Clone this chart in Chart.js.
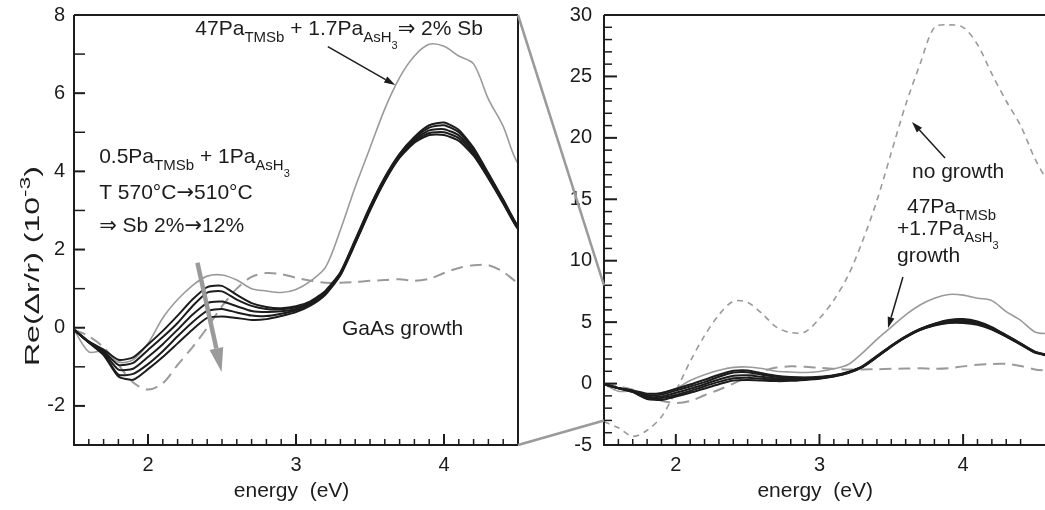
<!DOCTYPE html>
<html>
<head>
<meta charset="utf-8">
<script src="https://cdn.jsdelivr.net/npm/chart.js@4.4.1/dist/chart.umd.min.js"></script>
<style>
html, body { margin: 0; padding: 0; background: #fff; overflow: hidden; }
#wrap { position: relative; width: 1045px; height: 510px; }
canvas { position: absolute; top: 0; }
#cLeft { left: 0; }
#cRight { left: 530px; }
#cOver { left: 0; pointer-events: none; }
</style>
</head>
<body>
<div id="wrap">
  <canvas id="cLeft" width="530" height="510" style="width:530px;height:510px"></canvas>
  <canvas id="cRight" width="515" height="510" style="width:515px;height:510px"></canvas>
  <canvas id="cOver" width="1045" height="510" style="width:1045px;height:510px"></canvas>
</div>
<script>
// ---------------------------------------------------------------------------
// data (energy in eV, Re(dr/r) in 1e-3)
// ---------------------------------------------------------------------------
const energy = [1.5, 1.6, 1.7, 1.8, 1.9, 2.0, 2.1, 2.2, 2.3, 2.4, 2.5, 2.6, 2.7, 2.8, 2.9, 3.0,
                3.1, 3.2, 3.3, 3.4, 3.5, 3.6, 3.7, 3.8, 3.9, 4.0, 4.1, 4.2, 4.3, 4.4, 4.5, 4.6];

// 0.5Pa TMSb + 1Pa AsH3, T 570 -> 510 C (five spectra, Sb 2% -> 12%)
const sbRun1 = [-0.05, -0.35, -0.56, -0.82, -0.76, -0.43, -0.08, 0.31, 0.72, 1.04, 1.07, 0.84, 0.63, 0.53, 0.50, 0.55,
                0.68, 0.95, 1.42, 2.25, 3.10, 3.85, 4.45, 4.88, 5.18, 5.25, 5.06, 4.60, 3.95, 3.28, 2.60, 2.30];
const sbRun2 = [-0.05, -0.36, -0.60, -0.95, -0.90, -0.57, -0.24, 0.12, 0.55, 0.90, 0.93, 0.72, 0.56, 0.48, 0.47, 0.52,
                0.66, 0.93, 1.40, 2.22, 3.08, 3.83, 4.43, 4.85, 5.12, 5.18, 5.00, 4.55, 3.92, 3.26, 2.58, 2.28];
const sbRun3 = [-0.05, -0.37, -0.63, -1.07, -1.05, -0.75, -0.42, -0.05, 0.33, 0.63, 0.67, 0.55, 0.43, 0.40, 0.42, 0.48,
                0.63, 0.90, 1.38, 2.20, 3.05, 3.80, 4.40, 4.81, 5.05, 5.08, 4.92, 4.50, 3.88, 3.23, 2.56, 2.26];
const sbRun4 = [-0.05, -0.38, -0.67, -1.20, -1.18, -0.93, -0.60, -0.22, 0.14, 0.43, 0.48, 0.39, 0.31, 0.30, 0.36, 0.44,
                0.60, 0.88, 1.36, 2.17, 3.02, 3.77, 4.37, 4.77, 4.98, 5.00, 4.85, 4.45, 3.85, 3.20, 2.54, 2.24];
const sbRun5 = [-0.05, -0.38, -0.70, -1.25, -1.33, -1.06, -0.75, -0.40, -0.05, 0.25, 0.29, 0.25, 0.20, 0.22, 0.30, 0.40,
                0.57, 0.85, 1.34, 2.15, 3.00, 3.75, 4.35, 4.73, 4.93, 4.93, 4.78, 4.40, 3.82, 3.18, 2.52, 2.22];

// 47Pa TMSb + 1.7Pa AsH3 -> 2% Sb
const highTmsb = [-0.05, -0.62, -0.60, -0.88, -0.82, -0.40, 0.25, 0.72, 1.08, 1.32, 1.35, 1.22, 1.00, 0.94, 0.90, 0.98,
                  1.20, 1.55, 2.50, 3.60, 4.60, 5.60, 6.40, 6.95, 7.25, 7.20, 6.95, 6.75, 5.85, 5.15, 4.20, 4.05];
// GaAs growth
const gaasGrowth = [-0.05, -0.22, -0.50, -0.95, -1.40, -1.58, -1.42, -0.95, -0.50, 0.00, 0.55, 1.00, 1.30, 1.40, 1.37, 1.28,
                    1.20, 1.15, 1.15, 1.17, 1.20, 1.22, 1.24, 1.20, 1.25, 1.40, 1.53, 1.60, 1.60, 1.43, 1.15, 1.05];
// no growth, 47Pa TMSb + 1.7Pa AsH3
const noGrowth = [-3.1, -3.6, -4.3, -3.8, -2.7, -0.6, 1.8, 3.9, 5.6, 6.7, 6.6, 5.7, 4.6, 4.15, 4.2, 5.3,
                  6.8, 8.8, 11.6, 14.9, 18.8, 22.7, 26.0, 29.0, 29.2, 29.0, 27.6, 25.2, 23.0, 21.0, 18.3, 16.2];

// tick labels
const xLabels = [2, 3, 4];
const leftYLabels = [-2, 0, 2, 4, 6, 8];
const rightYLabels = [-5, 0, 5, 10, 15, 20, 25, 30];

// ---------------------------------------------------------------------------
const FONT = "'Liberation Sans', 'DejaVu Sans', Arial, sans-serif";
const SYM = "'DejaVu Sans', sans-serif";
const INK = '#1c1c1c';
const GREY = '#9a9a9a';
// [size, baseline shift, family]
const LEVELS = { n: [21, 0, FONT], s: [15, 7, FONT], ss: [11, 14, FONT], up: [15, -9, FONT], sym: [21, 0, SYM] };

const pts = ys => energy.map((x, i) => ({ x: x, y: ys[i] }));

function blackSet(ys) {
    return { data: pts(ys), borderColor: INK, borderWidth: 2, tension: 0.2, pointRadius: 0 };
}

function baseSets() {
    return [
        blackSet(sbRun1), blackSet(sbRun2), blackSet(sbRun3), blackSet(sbRun4), blackSet(sbRun5),
        { data: pts(highTmsb), borderColor: GREY, borderWidth: 1.6, tension: 0.3, pointRadius: 0 },
        { data: pts(gaasGrowth), borderColor: GREY, borderWidth: 2, borderDash: [12, 7], tension: 0.3, pointRadius: 0 }
    ];
}

function setFont(ctx, lv) {
    ctx.font = lv[0] + 'px ' + lv[2];
}

function richWidth(ctx, parts) {
    let w = 0;
    parts.forEach(function (p) {
        setFont(ctx, LEVELS[p[1] || 'n']);
        w += ctx.measureText(p[0]).width;
    });
    return w;
}

function richText(ctx, x, y, parts) {
    let cx = x;
    ctx.textAlign = 'left';
    ctx.textBaseline = 'alphabetic';
    parts.forEach(function (p) {
        const lv = LEVELS[p[1] || 'n'];
        setFont(ctx, lv);
        ctx.fillText(p[0], cx, y + lv[1]);
        cx += ctx.measureText(p[0]).width;
    });
}

function arrow(ctx, x1, y1, x2, y2, color, width, headLen, headW) {
    const a = Math.atan2(y2 - y1, x2 - x1);
    const bx = x2 - headLen * Math.cos(a), by = y2 - headLen * Math.sin(a);
    ctx.strokeStyle = color;
    ctx.fillStyle = color;
    ctx.lineWidth = width;
    ctx.setLineDash([]);
    ctx.beginPath(); ctx.moveTo(x1, y1); ctx.lineTo(bx, by); ctx.stroke();
    ctx.beginPath();
    ctx.moveTo(x2, y2);
    ctx.lineTo(bx + headW / 2 * Math.sin(a), by - headW / 2 * Math.cos(a));
    ctx.lineTo(bx - headW / 2 * Math.sin(a), by + headW / 2 * Math.cos(a));
    ctx.closePath(); ctx.fill();
}

// frame, inner ticks, titles and annotations for one panel
function panelPlugin(cfg) {
    return {
        id: 'panel',
        afterDraw: function (chart) {
            const ctx = chart.ctx, a = chart.chartArea;
            const xs = chart.scales.x, ys = chart.scales.y;
            ctx.save();
            ctx.strokeStyle = INK;
            ctx.lineWidth = 2;
            ctx.beginPath();
            ctx.moveTo(a.left, a.top); ctx.lineTo(a.left, a.bottom); ctx.lineTo(a.right, a.bottom);
            ctx.moveTo(a.left, a.top); ctx.lineTo(a.right, a.top);
            if (cfg.rightBorder) { ctx.moveTo(a.right, a.top); ctx.lineTo(a.right, a.bottom); }
            ctx.stroke();

            // ticks pointing inwards
            xs.ticks.forEach(function (t) {
                const v10 = t.value * 10;
                if (Math.abs(v10 - Math.round(v10)) > 1e-6) return;
                const major = Math.abs(t.value - Math.round(t.value)) < 1e-6;
                const px = xs.getPixelForValue(t.value);
                ctx.lineWidth = major ? 2 : 1.5;
                ctx.beginPath(); ctx.moveTo(px, a.bottom); ctx.lineTo(px, a.bottom - (major ? 11 : 6)); ctx.stroke();
            });
            ys.ticks.forEach(function (t) {
                const major = cfg.yLabels.indexOf(t.value) >= 0;
                const py = ys.getPixelForValue(t.value);
                const len = major ? cfg.yMajor : cfg.yMinor;
                ctx.lineWidth = major ? 2 : 1.5;
                ctx.beginPath(); ctx.moveTo(a.left, py); ctx.lineTo(a.left + len, py); ctx.stroke();
            });

            ctx.fillStyle = INK;
            // x title
            ctx.font = '21px ' + FONT;
            ctx.textAlign = 'center';
            ctx.textBaseline = 'alphabetic';
            ctx.fillText('energy  (eV)', xs.getPixelForValue(2.97), 497);

            if (cfg.yTitle) {
                // y title is drawn out along its length, as in the original figure
                const w = richWidth(ctx, cfg.yTitle);
                ctx.save();
                ctx.translate(39, 266);
                ctx.rotate(-Math.PI / 2);
                ctx.scale(cfg.yTitleLen / w, 1);
                richText(ctx, -w / 2, 0, cfg.yTitle);
                ctx.restore();
            }

            cfg.notes.forEach(function (n) {
                ctx.fillStyle = INK;
                if (n.text) {
                    richText(ctx, xs.getPixelForValue(n.at[0]), ys.getPixelForValue(n.at[1]), n.text);
                } else {
                    arrow(ctx,
                        xs.getPixelForValue(n.from[0]), ys.getPixelForValue(n.from[1]),
                        xs.getPixelForValue(n.to[0]), ys.getPixelForValue(n.to[1]),
                        n.color || INK, n.width || 1.5, n.head || 11, n.headW || 7);
                }
            });
            ctx.restore();
        }
    };
}

function noPad(s) {
    s.paddingLeft = 0; s.paddingRight = 0; s.paddingTop = 0; s.paddingBottom = 0;
}

function scalesFor(xMax, yMin, yMax, yLabels, yPad) {
    const tickFont = { family: FONT, size: 20 };
    return {
        x: {
            type: 'linear', min: 1.5, max: xMax,
            afterFit: function (s) { s.height = 65; noPad(s); },
            grid: { display: false, drawTicks: false },
            border: { display: false },
            ticks: {
                stepSize: 0.1, autoSkip: false, maxRotation: 0, padding: 8,
                font: tickFont, color: INK,
                callback: function (v) {
                    const r = Math.round(v * 10) / 10;
                    return xLabels.indexOf(r) >= 0 ? String(r) : '';
                }
            }
        },
        y: {
            type: 'linear', min: yMin, max: yMax,
            afterFit: function (s) { s.width = 74; noPad(s); },
            grid: { display: false, drawTicks: false },
            border: { display: false },
            ticks: {
                stepSize: 1, autoSkip: false, padding: yPad,
                font: tickFont, color: INK,
                callback: function (v) { return yLabels.indexOf(v) >= 0 ? String(v) : ''; }
            }
        }
    };
}

const common = {
    responsive: false,
    animation: false,
    events: [],
    plugins: { legend: { display: false }, tooltip: { enabled: false } },
    elements: { point: { radius: 0 } }
};

const leftChart = new Chart(document.getElementById('cLeft'), {
    type: 'line',
    data: { datasets: baseSets() },
    options: Object.assign({}, common, {
        layout: { padding: { top: 15, right: 12, left: 0, bottom: 0 } },
        scales: scalesFor(4.5, -3, 8, leftYLabels, 9)
    }),
    plugins: [panelPlugin({
        rightBorder: true, yLabels: leftYLabels, yMajor: 11, yMinor: 11,
        yTitle: [['Re(\u0394r/r) (10'], ['-3', 'up'], [')']], yTitleLen: 200,
        notes: [
            { at: [2.32, 7.49], text: [['47Pa'], ['TMSb', 's'], [' + 1.7Pa'], ['AsH', 's'], ['3', 'ss'], ['\u21D2', 'sym'], [' 2% Sb']] },
            { from: [3.215, 7.19], to: [3.67, 6.21] },
            { at: [1.67, 4.22], text: [['0.5Pa'], ['TMSb', 's'], [' + 1Pa'], ['AsH', 's'], ['3', 'ss']] },
            { at: [1.67, 3.30], text: [['T 570\u00B0C'], ['\u2192', 'sym'], ['510\u00B0C']] },
            { at: [1.67, 2.46], text: [['\u21D2', 'sym'], [' Sb 2%'], ['\u2192', 'sym'], ['12%']] },
            { at: [3.31, -0.18], text: [['GaAs growth']] },
            { from: [2.334, 1.66], to: [2.497, -1.13], color: GREY, width: 4.5, head: 24, headW: 14 }
        ]
    })]
});

const rightSets = baseSets();
rightSets.push({ data: pts(noGrowth), borderColor: GREY, borderWidth: 1.6, borderDash: [6, 5], tension: 0.3, pointRadius: 0 });

const rightChart = new Chart(document.getElementById('cRight'), {
    type: 'line',
    data: { datasets: rightSets },
    options: Object.assign({}, common, {
        layout: { padding: { top: 15, right: 0, left: 0, bottom: 0 } },
        scales: scalesFor(4.57, -5, 30, rightYLabels, 12)
    }),
    plugins: [panelPlugin({
        rightBorder: false, yLabels: rightYLabels, yMajor: 13, yMinor: 8,
        notes: [
            { at: [3.644, 16.72], text: [['no growth']] },
            { from: [3.874, 18.36], to: [3.644, 21.29] },
            { at: [3.609, 13.88], text: [['47Pa'], ['TMSb', 's']] },
            { at: [3.54, 12.09], text: [['+1.7Pa'], ['AsH', 's'], ['3', 'ss']] },
            { at: [3.54, 9.9], text: [['growth']] },
            { from: [3.581, 8.67], to: [3.477, 4.52] }
        ]
    })]
});

// grey zoom lines joining the two panels at the left panel's y range
(function () {
    const ctx = document.getElementById('cOver').getContext('2d');
    const rightOffset = 530;
    const xl = leftChart.scales.x, yl = leftChart.scales.y;
    const xr = rightChart.scales.x, yr = rightChart.scales.y;
    ctx.strokeStyle = GREY;
    ctx.lineWidth = 2.5;
    [yl.max, yl.min].forEach(function (v) {
        ctx.beginPath();
        ctx.moveTo(xl.getPixelForValue(xl.max), yl.getPixelForValue(v));
        ctx.lineTo(rightOffset + xr.getPixelForValue(xr.min), yr.getPixelForValue(v));
        ctx.stroke();
    });
})();
</script>
</body>
</html>
